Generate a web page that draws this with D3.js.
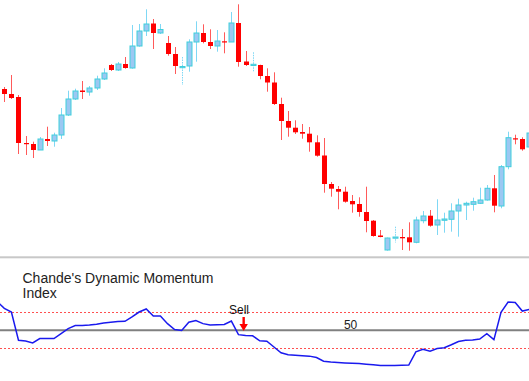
<!DOCTYPE html>
<html>
<head>
<meta charset="utf-8">
<script src="https://cdn.jsdelivr.net/npm/d3@7"></script>
<style>
    body { margin: 0; background: #fff; }
    #chart text { font-family: "Liberation Sans", Arial, sans-serif; }
</style>
</head>
<body>
<div id="chart"></div>
<script>

// candle prices (chart units, higher = up)
var opens  = [171, 166, 163, 117, 116, 110, 121, 119, 125, 145, 161, 169.5, 168, 172, 181, 195, 190, 196, 192, 214, 229, 236.5, 227, 217, 206, 193, 194, 218, 227, 218, 214, 218.7, 218, 237, 198.5, 195, 195, 184, 177.5, 156, 139, 132.3, 128, 126.3, 117.7, 104.5, 76, 71, 68.3, 59, 56, 48, 39.3, 24.5, 10, 22.5, 23, 22.7, 17.7, 39.3, 44.3, 35, 39.7, 40.7, 49, 55, 55.7, 56.7, 60, 71.7, 54, 93.3, 121.7, 121, 113];
var highs  = [173, 185, 165, 124, 118.3, 123, 133.3, 127.3, 152, 169.3, 171.3, 179, 174, 184.3, 191.7, 196, 198, 203, 235, 236, 250.7, 241, 236, 224, 213, 203, 220.7, 238.7, 235.7, 230.7, 230, 227.7, 248, 255.7, 209, 207.7, 195.3, 191.7, 187.7, 162.3, 149, 139.7, 136, 133, 124.7, 122, 78, 74, 73.3, 65, 62.7, 73.3, 40, 30, 22.5, 33.3, 31, 37.7, 43.3, 49, 50, 60.7, 47.3, 56.7, 61.3, 58.3, 62.3, 72.3, 75, 85, 95, 128.3, 125.3, 122.7, 130];
var lows   = [158, 161, 106, 105, 102, 110, 114, 113.3, 121, 144, 160, 161, 164.3, 170, 180, 189, 189, 191.3, 191.3, 213.3, 224, 211, 226, 204.3, 186, 175, 188.3, 198.3, 216.7, 211, 208.3, 206.7, 218.3, 193.3, 194, 188.3, 180.7, 168.3, 155, 120, 123.3, 126, 121.3, 108.3, 103.3, 67.3, 63.3, 50.7, 57.3, 47.3, 43.3, 27.7, 23.3, 22.7, 9.3, 17.5, 10, 9.3, 16.7, 36.7, 33.3, 25, 27.3, 28.3, 23.3, 40, 49.3, 56, 59.3, 47.7, 51.7, 90.7, 115.7, 109.3, 110];
var closes = [166, 162, 117, 116, 110, 121, 119, 125, 145, 161, 169, 168, 172, 181, 187, 190, 196, 192, 214, 229, 236, 227, 230.5, 206, 194, 193.5, 218, 227, 218, 214, 219, 218, 237, 198, 195, 195.7, 184, 177.5, 156, 139, 132.3, 127.7, 126.3, 117.7, 104.3, 76, 71.3, 68.3, 58.3, 55.7, 48, 39, 24, 23, 22, 23, 21.7, 17.7, 40, 44, 34.3, 40, 41, 49, 55, 56.7, 58.3, 60, 71.7, 54.3, 93.3, 122.3, 120.7, 110.7, 127];

// Chande's Dynamic Momentum Index, first value is one bar before the chart
var dmiValues = [82, 74.4, 70.3, 38.9, 38.1, 35.9, 40.8, 40.8, 40.8, 46.3, 51.9, 55.2, 55.2, 55.8, 56.7, 58.1, 58.9, 59.7, 60, 64.8, 70.3, 73.7, 65.9, 65.9, 57.4, 50.8, 49.7, 58.9, 60.8, 57.4, 55.9, 56.1, 56.4, 60.3, 45.2, 44.1, 43.9, 38.3, 37.8, 31.4, 25, 22.8, 22.2, 21.7, 21.3, 19.7, 15.6, 14.8, 14.2, 13.7, 13.3, 13, 12.4, 11.7, 10.9, 10.8, 10.8, 11.1, 11.4, 26.1, 28.9, 26.7, 29.7, 30.6, 33.9, 37.6, 38.9, 39.2, 40.3, 46.3, 39.7, 70, 81.4, 80.8, 71.4, 73.3];
var dmiLevels = [30, 70];
var midLevel = 50;

var indicatorLabel = ["Chande's Dynamic Momentum", "Index"];
var signalLabel = "Sell";
var signalBar = 33;
var midLabelBar = 48;

const width = 529;
const height = 381;

var candles = opens.map((o, i) => ({
    i: i, open: o, high: highs[i], low: lows[i], close: closes[i]
}));

const svg = d3.select('#chart')
    .append('svg')
    .attr('width', width)
    .attr('height', height)
    .style('display', 'block');

var x = d3.scaleLinear()
    .domain([0, 73])
    .range([4.3, 522.3]);

var yPrice = d3.scaleLinear()
    .domain([0, 260])
    .range([260, 0]);

var yDmi = d3.scaleLinear()
    .domain(dmiLevels)
    .range([348.3, 312.3]);

// price panel
var gc = svg.append('g').attr('class', 'candles');

var c = gc.selectAll('g')
    .data(candles)
    .enter().append('g');

c.append('line')
    .attr('x1', d => Math.round(x(d.i)) + 0.5)
    .attr('x2', d => Math.round(x(d.i)) + 0.5)
    .attr('y1', d => yPrice(d.high))
    .attr('y2', d => yPrice(d.low))
    .style('stroke', d => d.close >= d.open ? '#7fd8f5' : '#ff5a5a')
    .style('stroke-width', 1)
    .style('stroke-dasharray', d => Math.abs(d.close - d.open) < 1 && d.close >= d.open ? '1.5,1' : null);

c.append('rect')
    .attr('x', d => Math.round(x(d.i)) - 2)
    .attr('width', 5)
    .attr('y', d => yPrice(Math.max(d.open, d.close)))
    .attr('height', d => Math.max(1.2, Math.abs(yPrice(d.open) - yPrice(d.close))))
    .style('fill', d => d.close >= d.open ? '#9cc8f2' : '#ff0000')
    .style('stroke', d => d.close >= d.open ? '#3fcfdc' : 'none')
    .style('stroke-width', 1);

// separator
svg.append('rect')
    .attr('x', 0)
    .attr('y', 256.3)
    .attr('width', width)
    .attr('height', 2)
    .style('fill', '#c8c8c8');

// indicator panel
svg.selectAll('.level')
    .data(dmiLevels)
    .enter().append('line')
    .attr('class', 'level')
    .attr('x1', 0)
    .attr('x2', width)
    .attr('y1', d => Math.round(yDmi(d)) + 0.5)
    .attr('y2', d => Math.round(yDmi(d)) + 0.5)
    .style('stroke', '#ff5050')
    .style('stroke-width', 1)
    .style('stroke-dasharray', '2,2');

svg.append('line')
    .attr('x1', 0)
    .attr('x2', width)
    .attr('y1', yDmi(midLevel))
    .attr('y2', yDmi(midLevel))
    .style('stroke', '#808080')
    .style('stroke-width', 2);

var line = d3.line()
    .x((d, i) => x(i - 1))
    .y(d => yDmi(d));

svg.append('path')
    .datum(dmiValues)
    .attr('d', line)
    .style('fill', 'none')
    .style('stroke', '#1a1aee')
    .style('stroke-width', 1.5);

svg.selectAll('.title')
    .data(indicatorLabel)
    .enter().append('text')
    .attr('class', 'title')
    .attr('x', 22.5)
    .attr('y', (d, i) => 282.8 + i * 15.6)
    .style('font-size', '14px')
    .style('fill', '#222')
    .text(d => d);

svg.append('text')
    .attr('x', x(midLabelBar) - 1)
    .attr('y', yDmi(midLevel) - 1.5)
    .style('font-size', '12px')
    .style('fill', '#222')
    .text(midLevel);

// sell signal
var sx = x(signalBar) + 5;
svg.append('text')
    .attr('x', sx - 4.5)
    .attr('y', 313.5)
    .attr('text-anchor', 'middle')
    .style('font-size', '12px')
    .style('fill', '#111')
    .text(signalLabel);

svg.append('rect')
    .attr('x', sx - 1)
    .attr('y', 317)
    .attr('width', 2.4)
    .attr('height', 8)
    .style('fill', '#ff0000');

svg.append('path')
    .attr('d', `M${sx - 4},324 L${sx + 4.4},324 L${sx + 0.2},331 Z`)
    .style('fill', '#ff0000');

</script>
</body>
</html>
